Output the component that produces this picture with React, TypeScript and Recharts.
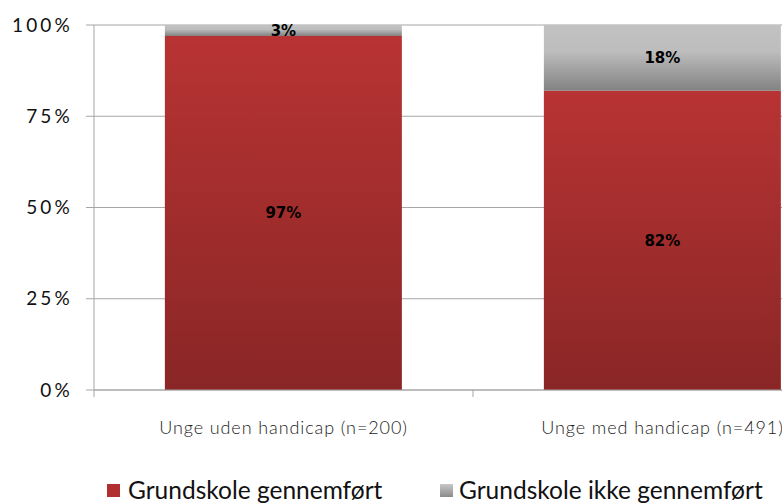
import React from "react";
import { BarChart, Bar, XAxis, YAxis, CartesianGrid, Legend, LabelList } from "recharts";

const categories = ["Unge uden handicap (n=200)", "Unge med handicap (n=491)"];
const completed = [97, 82];
const notCompleted = [3, 18];
const yTicks = [0, 25, 50, 75, 100];
const seriesNames = ["Grundskole gennemført", "Grundskole ikke gennemført"];

const data = categories.map((c, i) => ({ name: c, done: completed[i], notDone: notCompleted[i] }));

const CHART_W = 860;
const CHART_H = 503;
const MARGIN = { top: 25, right: 8, left: 0, bottom: 0 };
const YAXIS_W = 94;
const BAND = (CHART_W - MARGIN.left - MARGIN.right - YAXIS_W) / categories.length;
const X_TICK_SIZE = 7;
const X_TICK_MARGIN = 24;
const GRID = "#a6a6a6";

const CatTick = (props: any) => {
  const { x, y, payload } = props;
  const axisY = y - X_TICK_SIZE - X_TICK_MARGIN;
  const bx = x - BAND / 2;
  return (
    <g>
      <line x1={bx} x2={bx} y1={axisY} y2={axisY + X_TICK_SIZE} stroke={GRID} />
      <text x={x} y={y} dy="0.71em" textAnchor="middle" fill="#222" fontSize={18} fontFamily="Lato, sans-serif" style={{ fontWeight: 300, letterSpacing: 0.9 }}>
        {payload.value}
      </text>
    </g>
  );
};

const LegendContent = () => (
  <div style={{ position: "relative", height: 50, fontFamily: "Lato, sans-serif", fontSize: 24.5, color: "#111" }}>
    <div style={{ position: "absolute", left: 107, top: 24, display: "flex", alignItems: "center", lineHeight: "26px" }}>
      <span style={{ width: 13, height: 13, background: "#b03030", display: "inline-block", marginRight: 8 }} />
      <span>{seriesNames[0]}</span>
    </div>
    <div style={{ position: "absolute", left: 440, top: 24, display: "flex", alignItems: "center", lineHeight: "26px" }}>
      <span style={{ width: 13, height: 13, background: "linear-gradient(#c8c8c8, #8a8a8a)", display: "inline-block", marginRight: 6 }} />
      <span>{seriesNames[1]}</span>
    </div>
  </div>
);

export default function App() {
  return (
    <div style={{ position: "fixed", left: 0, top: 0, width: 782, height: 503, overflow: "hidden", background: "#fff" }}>
      <BarChart width={CHART_W} height={CHART_H} data={data} margin={MARGIN} barCategoryGap="18.7%">
        <defs>
          <linearGradient id="redGrad" x1="0" y1="0" x2="0" y2="1">
            <stop offset="0%" stopColor="#b83333" />
            <stop offset="100%" stopColor="#8a2626" />
          </linearGradient>
          <linearGradient id="greyGrad" x1="0" y1="0" x2="0" y2="1">
            <stop offset="0%" stopColor="#c2c2c2" />
            <stop offset="40%" stopColor="#bdbdbd" />
            <stop offset="100%" stopColor="#828282" />
          </linearGradient>
        </defs>
        <CartesianGrid vertical={false} stroke={GRID} />
        <XAxis
          dataKey="name"
          axisLine={{ stroke: GRID }}
          tickLine={false}
          tickSize={X_TICK_SIZE}
          tickMargin={X_TICK_MARGIN}
          height={63}
          interval={0}
          tick={<CatTick />}
        />
        <YAxis
          width={YAXIS_W}
          domain={[0, 100]}
          ticks={yTicks}
          tickFormatter={(v: number) => `${v}%`}
          axisLine={{ stroke: GRID }}
          tickLine={{ stroke: GRID }}
          tickSize={8}
          tickMargin={13}
          tick={{ fill: "#111", fontSize: 19, fontFamily: "Lato, sans-serif", letterSpacing: 3.2 }}
        />
        <Legend verticalAlign="bottom" content={<LegendContent />} wrapperStyle={{ left: 0, bottom: 0, width: CHART_W, height: 50 }} />
        <Bar dataKey="done" name={seriesNames[0]} stackId="a" fill="url(#redGrad)" isAnimationActive={false}>
          <LabelList dataKey="done" position="center" formatter={(v: any) => `${v}%`} fill="#000" fontSize={15} fontWeight="bold" fontFamily="DejaVu Sans, sans-serif" />
        </Bar>
        <Bar dataKey="notDone" name={seriesNames[1]} stackId="a" fill="url(#greyGrad)" isAnimationActive={false}>
          <LabelList dataKey="notDone" position="center" formatter={(v: any) => `${v}%`} fill="#000" fontSize={15} fontWeight="bold" fontFamily="DejaVu Sans, sans-serif" />
        </Bar>
      </BarChart>
    </div>
  );
}
